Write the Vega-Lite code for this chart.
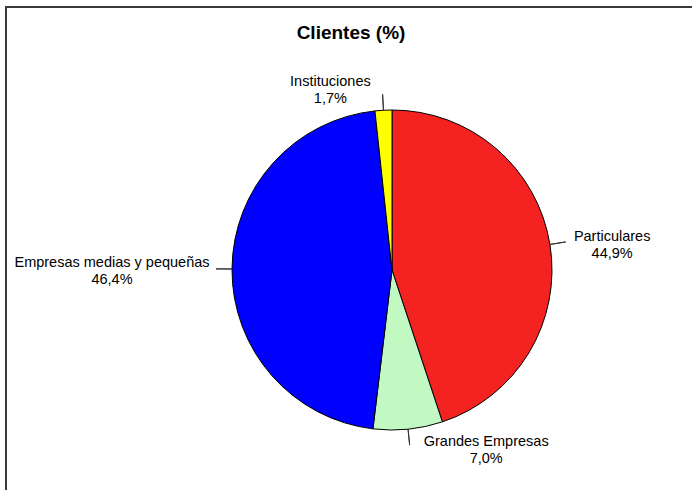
{
  "$schema": "https://vega.github.io/schema/vega-lite/v6.json",
  "width": 772,
  "height": 526,
  "autosize": {"type": "none"},
  "padding": {"left": 6, "top": 7, "right": -86, "bottom": -43},
  "background": "white",
  "view": {"stroke": "#3a3a3a", "strokeWidth": 2, "fill": "white"},
  "title": {"text": "Clientes (%)", "font": "Liberation Sans", "fontSize": 19, "fontWeight": "bold", "color": "#000000", "anchor": "middle", "dx": -41, "dy": 70},
  "data": {"values": [
    {"cat": "Particulares", "value": 44.9, "label": "Particulares\n44,9%", "orden": 1},
    {"cat": "Grandes Empresas", "value": 7.0, "label": "Grandes Empresas\n7,0%", "orden": 2},
    {"cat": "Empresas medias y pequeñas", "value": 46.4, "label": "Empresas medias y pequeñas\n46,4%", "orden": 3},
    {"cat": "Instituciones", "value": 1.7, "label": "Instituciones\n1,7%", "orden": 4}
  ]},
  "encoding": {
    "theta": {"field": "value", "type": "quantitative", "stack": true, "scale": {"domain": [0, 100]}},
    "order": {"field": "orden", "type": "quantitative"}
  },
  "layer": [
    {
      "mark": {"type": "arc", "radius": 160, "stroke": "#000000", "strokeWidth": 1},
      "encoding": {
        "color": {"field": "cat", "type": "nominal", "legend": null,
          "scale": {"domain": ["Particulares", "Grandes Empresas", "Empresas medias y pequeñas", "Instituciones"],
                    "range": ["#F52222", "#C2F8C2", "#0000FF", "#FFFF00"]}}
      }
    },
    {
      "mark": {"type": "arc", "radius": 176, "radius2": 160, "padAngle": 3.14159, "fillOpacity": 0, "stroke": "#333333", "strokeWidth": 1}
    },
    {
      "mark": {"type": "text", "font": "Liberation Sans", "fontSize": 14.5, "lineBreak": "\n", "lineHeight": 17, "align": "center", "baseline": "middle", "color": "#000000", "radius": 222, "dx": 1, "dy": 2},
      "encoding": {"text": {"condition": {"test": "datum.cat === 'Particulares'", "field": "label"}, "value": ""}}
    },
    {
      "mark": {"type": "text", "font": "Liberation Sans", "fontSize": 14.5, "lineBreak": "\n", "lineHeight": 17, "align": "center", "baseline": "middle", "color": "#000000", "radius": 181, "dx": 76, "dy": -8},
      "encoding": {"text": {"condition": {"test": "datum.cat === 'Grandes Empresas'", "field": "label"}, "value": ""}}
    },
    {
      "mark": {"type": "text", "font": "Liberation Sans", "fontSize": 14.5, "lineBreak": "\n", "lineHeight": 17, "align": "center", "baseline": "middle", "color": "#000000", "radius": 280, "dx": 0, "dy": -5},
      "encoding": {"text": {"condition": {"test": "datum.cat === 'Empresas medias y pequeñas'", "field": "label"}, "value": ""}}
    },
    {
      "mark": {"type": "text", "font": "Liberation Sans", "fontSize": 14.5, "lineBreak": "\n", "lineHeight": 17, "align": "center", "baseline": "middle", "color": "#000000", "radius": 180, "dx": -52, "dy": -8},
      "encoding": {"text": {"condition": {"test": "datum.cat === 'Instituciones'", "field": "label"}, "value": ""}}
    }
  ]
}
